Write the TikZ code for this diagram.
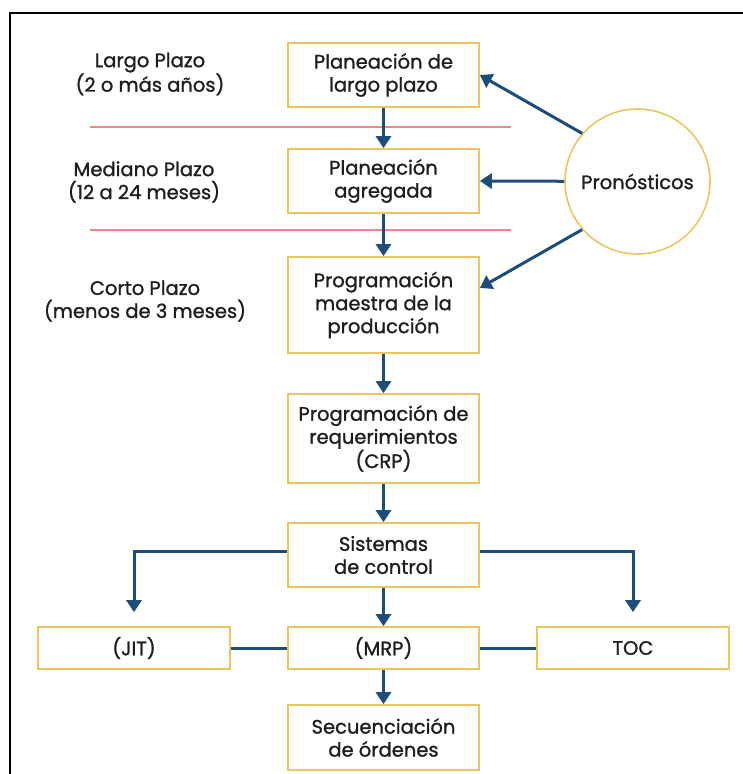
\documentclass[tikz,border=0pt]{standalone}
\usepackage{fontspec}
\setmainfont{Poppins}[FakeBold=1.2]
\usetikzlibrary{arrows.meta, positioning}
\definecolor{boxgold}{HTML}{EBC65E}
\definecolor{flowblue}{HTML}{1D4E78}
\definecolor{cutred}{HTML}{F0848C}
\definecolor{ink}{HTML}{1E1E1E}
\tikzset{
  stage/.style={draw=boxgold, line width=1.6pt, fill=white, text=ink,
    minimum width=191pt, align=center, inner sep=2pt,
    font=\fontsize{19.5}{23}\selectfont},
  term/.style={text=ink, align=center, font=\fontsize{19.5}{23}\selectfont},
  flow/.style={flowblue, line width=3pt, -{Triangle[width=15pt,length=12pt]}},
  link/.style={flowblue, line width=3pt},
  cut/.style={cutred, line width=1.7pt}
}

\begin{document}
\begin{tikzpicture}[x=1pt, y=-1pt]
\useasboundingbox (0,0) rectangle (743,774);
\draw[line width=2.4pt] (10,774) -- (10,13) -- (743,13);

\node[term] (lp) at (150,74) {Largo Plazo\\(2 o más años)};
\node[term] (mp) at (144,182) {Mediano Plazo\\(12 a 24 meses)};
\node[term] (cp) at (145,301) {Corto Plazo\\(menos de 3 meses)};

\draw[cut] (90,127) -- (511,127);
\draw[cut] (90,230) -- (511,230);

\node[stage, minimum height=64pt] (b1) at (383.5,75) {Planeación de\\largo plazo};
\node[stage, minimum height=64pt] (b2) at (383.5,181) {Planeación\\agregada};
\node[stage, minimum height=96pt] (b3) at (383.5,305) {Programación\\maestra de la\\producción};
\node[stage, minimum height=89pt] (b4) at (383.5,438.5) {Programación de\\requerimientos\\(CRP)};
\node[stage, minimum height=64pt] (b5) at (383.5,555) {Sistemas\\de control};
\node[stage, minimum width=192pt, minimum height=42pt] (jit) at (134,648) {(JIT)};
\node[stage, minimum height=42pt] (mrp) at (383.5,648) {(MRP)};
\node[stage, minimum width=192pt, minimum height=42pt] (toc) at (633,648) {TOC};
\node[stage, minimum height=65pt] (sec) at (383.5,737.5) {Secuenciación\\de órdenes};

\node[circle, draw=boxgold, line width=1.6pt, text=ink, minimum size=145pt,
  font=\fontsize{19.5}{23}\selectfont] (pron) at (637.5,181.5) {Pronósticos};

\draw[flow] (b1) -- (b2);
\draw[flow] (b2) -- (b3);
\draw[flow] (b3) -- (b4);
\draw[flow] (b4) -- (b5);
\draw[flow] (b5) -- (mrp);
\draw[flow] (mrp) -- (sec);
\draw[flow] ([yshift=4pt]b5.west) -| ([yshift=14pt]jit.north);
\draw[flow] ([yshift=4pt]b5.east) -| ([yshift=14pt]toc.north);
\draw[link] (jit) -- (mrp);
\draw[link] (mrp) -- (toc);

\draw[flow] (pron.139) -- (b1.east);
\draw[flow] (pron) -- (b2.east);
\draw[flow] (pron.221) -- ([yshift=17pt]b3.east);

\end{tikzpicture}
\end{document}
